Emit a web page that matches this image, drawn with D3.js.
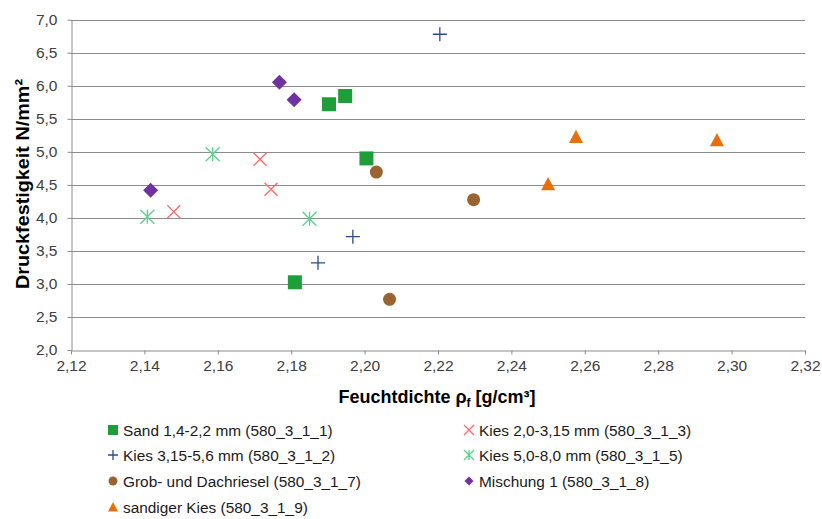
<!DOCTYPE html>
<html><head><meta charset="utf-8">
<script src="https://cdn.jsdelivr.net/npm/d3@7"></script>
<style>
body{margin:0;background:#fff;}
text{font-family:"Liberation Sans",Arial,sans-serif;}
</style></head>
<body><svg id="c" width="822" height="519"></svg>
<script>
const seriesNames = ["Sand 1,4-2,2 mm (580_3_1_1)","Kies 2,0-3,15 mm (580_3_1_3)","Kies 3,15-5,6 mm (580_3_1_2)","Kies 5,0-8,0 mm (580_3_1_5)","Grob- und Dachriesel (580_3_1_7)","Mischung 1 (580_3_1_8)","sandiger Kies (580_3_1_9)"];
const sand   = [[2.1903,5.72],[2.1947,5.845],[2.2005,4.90],[2.181,3.025]];
const kies23 = [[2.1715,4.887],[2.1745,4.433],[2.148,4.094]];
const kies35 = [[2.2205,6.78],[2.1968,3.715],[2.1873,3.32]];
const kies58 = [[2.1586,4.962],[2.1408,4.018],[2.185,3.988]];
const grob   = [[2.2032,4.694],[2.2297,4.275],[2.2068,2.767]];
const misch  = [[2.1768,6.052],[2.1808,5.789],[2.1417,4.417]];
const sandK  = [[2.2576,5.229],[2.296,5.18],[2.25,4.513]];
const xTicks = [2.12,2.14,2.16,2.18,2.20,2.22,2.24,2.26,2.28,2.30,2.32];
const yTicks = [2.0,2.5,3.0,3.5,4.0,4.5,5.0,5.5,6.0,6.5,7.0];

const data = [sand,kies23,kies35,kies58,grob,misch,sandK];
const colors = ["#1e9e38","#ff6a6a","#2b4a8a","#56d48c","#9b6330","#7032a0","#e8700c"];
const shapes = ["square","x","plus","star","circle","diamond","triangle"];

const svg = d3.select("#c");
const L=71,R=805,T=19.7,B=350;
const x = d3.scaleLinear().domain([2.12,2.32]).range([L,R]);
const y = d3.scaleLinear().domain([2,7]).range([B,T]);

// gridlines
svg.append("g").selectAll("line").data(yTicks.slice(1)).join("line")
  .attr("x1",L).attr("x2",R).attr("y1",d=>Math.round(y(d))+0.5).attr("y2",d=>Math.round(y(d))+0.5)
  .attr("stroke","#8c8c8c").attr("stroke-width",1);

// y axis
const ya = svg.append("g").attr("transform",`translate(${L+0.5},0)`)
  .call(d3.axisLeft(y).tickValues(yTicks).tickSize(4).tickSizeOuter(0).tickPadding(10).tickFormat(d=>d.toFixed(1).replace(".",",")));
ya.select(".domain").attr("stroke","#8c8c8c");
ya.selectAll(".tick line").attr("stroke","#8c8c8c");
ya.selectAll(".tick text").attr("font-size",15.5).attr("fill","#404040").attr("font-family","Liberation Sans, Arial, sans-serif");

// x axis
const xa = svg.append("g").attr("transform",`translate(0,${Math.round(B)+0.5})`)
  .call(d3.axisBottom(x).tickValues(xTicks).tickSize(4).tickSizeOuter(0).tickPadding(5).tickFormat(d=>d.toFixed(2).replace(".",",")));
xa.select(".domain").attr("stroke","#8c8c8c");
xa.selectAll(".tick line").attr("stroke","#8c8c8c");
xa.selectAll(".tick text").attr("font-size",15.5).attr("fill","#404040").attr("font-family","Liberation Sans, Arial, sans-serif");

// titles
svg.append("text").attr("transform","translate(29,184) rotate(-90)").attr("text-anchor","middle")
  .attr("font-size",18.5).attr("font-weight","bold").attr("fill","#000")
  .attr("textLength",210).attr("lengthAdjust","spacingAndGlyphs").text("Druckfestigkeit N/mm²");
const xt = svg.append("text").attr("x",437).attr("y",403).attr("text-anchor","middle")
  .attr("font-size",18).attr("font-weight","bold").attr("fill","#000");
xt.append("tspan").text("Feuchtdichte ");
xt.append("tspan").text("ρ");
xt.append("tspan").attr("font-size",12).attr("dy",4).text("f");
xt.append("tspan").attr("dy",-4).text(" [g/cm³]");

function drawMarker(g, shape, color, s){
  const h=s/2;
  if(shape==="square") g.append("rect").attr("x",-h).attr("y",-h).attr("width",s).attr("height",s).attr("fill",color);
  else if(shape==="circle") g.append("circle").attr("r",h).attr("fill",color);
  else if(shape==="diamond") g.append("path").attr("d",`M0,${-h}L${h},0L0,${h}L${-h},0Z`).attr("fill",color);
  else if(shape==="triangle") g.append("path").attr("d",`M0,${-h}L${h},${h*0.9}L${-h},${h*0.9}Z`).attr("fill",color);
  else if(shape==="x") g.append("path").attr("d",`M${-h},${-h}L${h},${h}M${-h},${h}L${h},${-h}`).attr("stroke",color).attr("stroke-width",1.3).attr("fill","none");
  else if(shape==="plus") g.append("path").attr("d",`M${-h},0L${h},0M0,${-h}L0,${h}`).attr("stroke",color).attr("stroke-width",1.3).attr("fill","none");
  else if(shape==="star") g.append("path").attr("d",`M${-h},${-h}L${h},${h}M${-h},${h}L${h},${-h}M0,${-h}L0,${h}`).attr("stroke",color).attr("stroke-width",1.3).attr("fill","none");
}
const sizes = {square:14,circle:13,diamond:15,triangle:14,x:13,plus:14,star:14};

data.forEach((pts,i)=>{
  const g = svg.append("g");
  g.selectAll("g").data(pts).join("g").attr("transform",d=>`translate(${x(d[0])},${y(d[1])})`)
    .each(function(){ drawMarker(d3.select(this),shapes[i],colors[i],sizes[shapes[i]]); });
});

// legend
const legPos = [[113,430],[469,430],[113,455],[469,455],[113,481],[469,481],[113,507]];
const lsizes = {square:10,circle:9,diamond:9,triangle:10,x:10,plus:10,star:10};
seriesNames.forEach((n,i)=>{
  const g = svg.append("g").attr("transform",`translate(${legPos[i][0]},${legPos[i][1]})`);
  drawMarker(g,shapes[i],colors[i],lsizes[shapes[i]]);
  g.append("text").attr("x",10).attr("y",5.5).attr("font-size",15.4).attr("fill","#1a1a1a").text(n);
});
</script></body></html>
